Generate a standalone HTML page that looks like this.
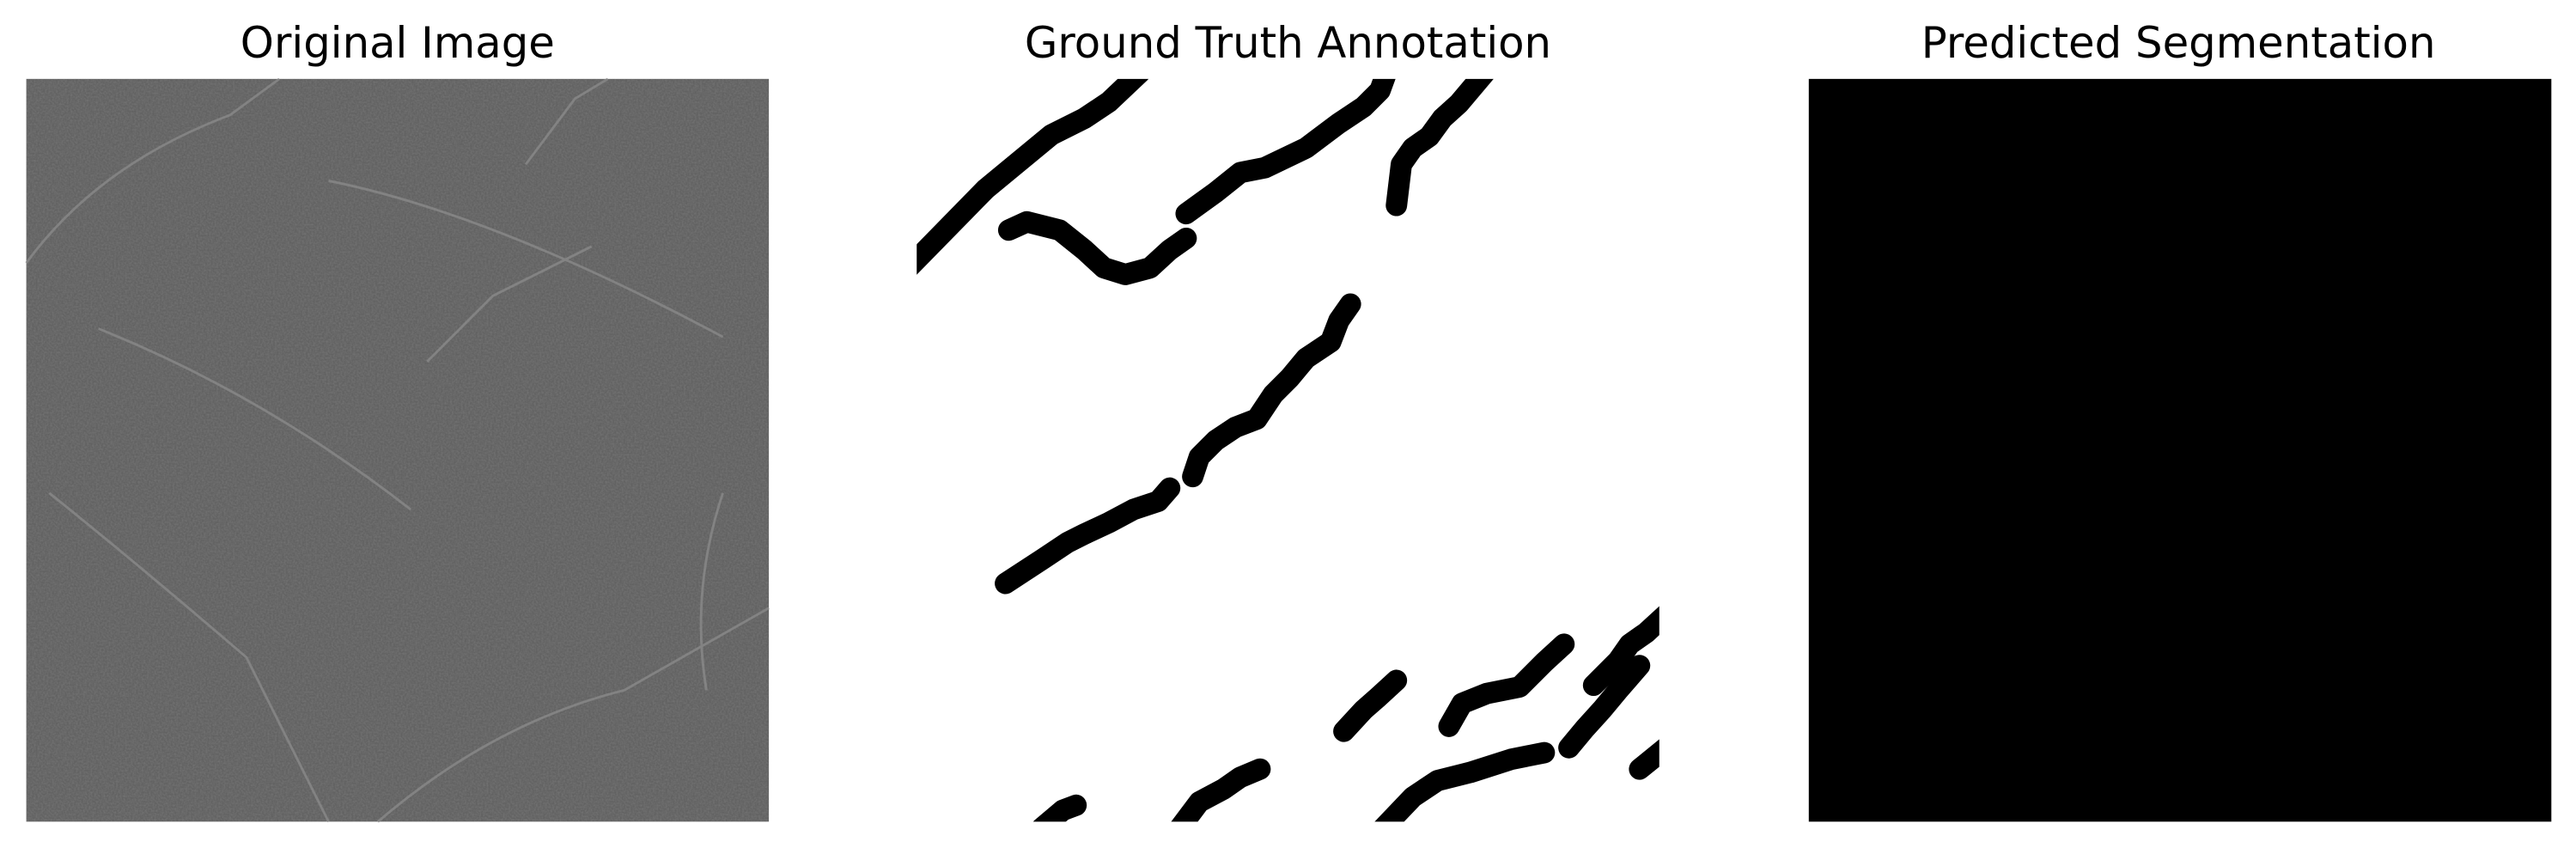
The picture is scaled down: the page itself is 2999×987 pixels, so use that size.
<!DOCTYPE html>
<html><head><meta charset="utf-8"><style>
html,body{margin:0;padding:0;background:#fff;}
svg{display:block;}
text{font-family:"DejaVu Sans","Liberation Sans",sans-serif;font-size:26px;fill:#000;}
</style></head><body>
<svg id="fig" width="2999" height="987" viewBox="0 0 1568 516" xmlns="http://www.w3.org/2000/svg">
<defs>
<clipPath id="c2"><rect x="558" y="48" width="452" height="452"/></clipPath>
<filter id="noise" x="0" y="0" width="100%" height="100%">
<feTurbulence type="fractalNoise" baseFrequency="0.9" numOctaves="2" seed="3"/>
<feColorMatrix type="matrix" values="0 0 0 0 0.42  0 0 0 0 0.42  0 0 0 0 0.42  0.9 0 0 0 -0.25"/>
</filter>
</defs>
<text x="242" y="35" text-anchor="middle">Original Image</text>
<text x="784" y="35" text-anchor="middle">Ground Truth Annotation</text>
<text x="1326" y="35" text-anchor="middle">Predicted Segmentation</text>
<g>
<rect x="16" y="48" width="452" height="452" fill="#626262"/>
<rect x="16" y="48" width="452" height="452" filter="url(#noise)" opacity="0.4"/>
<g fill="none" stroke="#8a8a8a" stroke-width="1.5" opacity="0.8">
<path d="M16,160 Q60,100 140,70 L170,48"/>
<path d="M200,110 Q300,130 440,205"/>
<path d="M30,300 Q80,340 150,400 L200,500"/>
<path d="M60,200 Q160,240 250,310"/>
<path d="M230,500 Q300,440 380,420 L468,370"/>
<path d="M320,100 L350,60 L370,48"/>
<path d="M260,220 L300,180 L360,150"/>
<path d="M440,300 Q420,360 430,420"/>
</g>
</g>
<g>
<rect x="558" y="48" width="452" height="452" fill="#fff"/>
<g id="cracks" clip-path="url(#c2)" fill="none" stroke="#000" stroke-width="13" stroke-linecap="round" stroke-linejoin="round"></g>
</g>
<rect x="1101" y="48" width="452" height="452" fill="#000"/>
</svg>
<script>
const crack1=[[552,164],[600,115],[640,82],[660,72],[675,62],[694,44]];
const crack2=[[614,140],[625,135],[645,140],[660,152],[672,163],[685,167],[700,163],[712,152],[722,145]];
const crack3=[[722,130],[740,117],[755,105],[770,102],[795,90],[815,75],[830,65],[840,55],[844,44]];
const crack4=[[850,125],[853,100],[860,90],[870,83],[878,72],[888,63],[904,44]];
const crack5=[[822,185],[815,195],[810,208],[795,218],[785,230],[775,240],[765,255],[752,260],[740,268],[730,278],[726,290]];
const crack6=[[712,297],[705,305],[690,310],[675,318],[660,325],[650,330],[635,340],[612,355]];
const crack7=[[818,445],[830,432],[838,425],[850,414]];
const crack8=[[882,442],[890,428],[905,422],[925,418],[940,403],[952,392]];
const crack9=[[970,417],[985,402],[992,392],[1002,385],[1014,374]];
const crack10=[[955,455],[965,443],[975,432],[985,420],[998,405]];
const crack11=[[840,506],[860,485],[875,475],[895,470],[920,462],[940,458]];
const crack12=[[998,468],[1014,455]];
const crack13=[[718,504],[730,488],[745,480],[755,473],[767,468]];
const crack14=[[634,504],[647,493],[655,490]];
const cracks=[crack1,crack2,crack3,crack4,crack5,crack6,crack7,crack8,crack9,crack10,crack11,crack12,crack13,crack14];
const g=document.getElementById('cracks');
cracks.forEach((pts,i)=>{
  const p=document.createElementNS('http://www.w3.org/2000/svg','polyline');
  p.setAttribute('points',pts.map(q=>q.join(',')).join(' '));
  
  
  g.appendChild(p);
});
</script>
</body></html>
